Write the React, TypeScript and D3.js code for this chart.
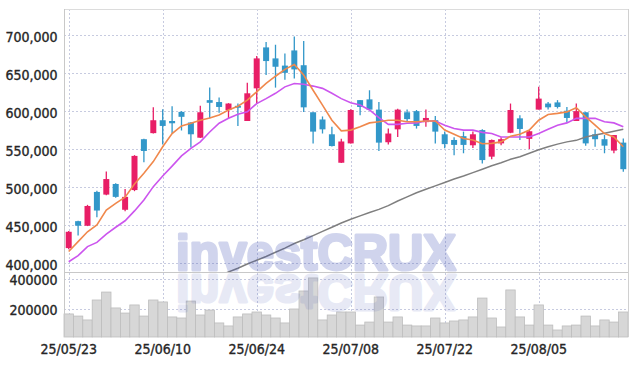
import { useEffect, useRef } from 'react';
import * as d3 from 'd3';

// trading days shown on the chart
const dates = [
  '25/05/23', '25/05/26', '25/05/27', '25/05/28', '25/05/29', '25/05/30', '25/06/02', '25/06/04', '25/06/05', '25/06/09',
  '25/06/10', '25/06/11', '25/06/12', '25/06/13', '25/06/16', '25/06/17', '25/06/18', '25/06/19', '25/06/20', '25/06/23',
  '25/06/24', '25/06/25', '25/06/26', '25/06/27', '25/06/30', '25/07/01', '25/07/02', '25/07/03', '25/07/04', '25/07/07',
  '25/07/08', '25/07/09', '25/07/10', '25/07/11', '25/07/14', '25/07/15', '25/07/16', '25/07/17', '25/07/18', '25/07/21',
  '25/07/22', '25/07/23', '25/07/24', '25/07/25', '25/07/28', '25/07/29', '25/07/30', '25/07/31', '25/08/01', '25/08/04',
  '25/08/05', '25/08/06', '25/08/07', '25/08/08', '25/08/11', '25/08/12', '25/08/13', '25/08/14', '25/08/18', '25/08/19',
];

const tickDates = ['25/05/23', '25/06/10', '25/06/24', '25/07/08', '25/07/22', '25/08/05'];
const priceTicks = [400000, 450000, 500000, 550000, 600000, 650000, 700000];
const volumeTicks = [200000, 400000];

const opens = [
  419500, 455000, 449000, 493500, 490000, 504000, 470000, 496000, 563000, 571000,
  588000, 587000, 599000, 585000, 565000, 614500, 612000, 601500, 607000, 587000,
  630000, 684000, 669500, 660000, 680000, 660500, 598500, 589000, 569500, 532000,
  557500, 614500, 615500, 602000, 559000, 576000, 598500, 600000, 585500, 588000,
  569500, 562000, 567000, 555000, 575000, 540000, 557500, 571500, 590500, 563500,
  602000, 610000, 611500, 600500, 587000, 598500, 569500, 563000, 548000, 558500,
];
const highs = [
  442000, 455500, 476500, 495000, 520500, 505000, 497500, 542000, 563500, 605000,
  602500, 606500, 600000, 585500, 607000, 631000, 618000, 610500, 610000, 637500,
  672500, 691000, 687500, 676000, 698500, 692500, 598500, 593000, 579500, 563500,
  602500, 614500, 627500, 612000, 577000, 603000, 602000, 601500, 602000, 593500,
  573000, 565500, 573000, 573000, 576000, 562500, 565500, 610000, 594500, 575000,
  632000, 612000, 614500, 605500, 610000, 598500, 576000, 568500, 568500, 564000,
];
const lows = [
  418000, 436000, 448500, 460000, 489000, 486000, 468000, 494500, 532500, 570500,
  556000, 570500, 574500, 552000, 564500, 590500, 598000, 590000, 580500, 587000,
  610000, 647500, 631000, 641500, 643000, 599000, 557500, 570500, 553500, 531500,
  557500, 594500, 602000, 547500, 556000, 566000, 586000, 577000, 579500, 557500,
  551000, 542000, 544500, 551500, 531000, 536500, 555000, 571000, 562000, 550000,
  602000, 602000, 603500, 585000, 587000, 554500, 553000, 544500, 544500, 520000,
];
const closes = [
  441000, 449000, 475000, 469000, 510500, 487000, 487000, 541000, 547500, 588000,
  580500, 584000, 592500, 569500, 598500, 611000, 605500, 610000, 604500, 623500,
  669500, 666000, 658500, 650500, 655000, 605000, 573000, 576000, 554000, 560000,
  601500, 605500, 602000, 558500, 570500, 602000, 589500, 580500, 591000, 573000,
  556500, 555500, 555500, 569500, 535500, 562000, 563000, 601500, 576500, 573500,
  616500, 605000, 605500, 591000, 600000, 557500, 563000, 554500, 568500, 523500,
];
const volumes = [
  169000, 155000, 129000, 262000, 315000, 209000, 175000, 229000, 155000, 262000,
  249000, 149000, 142000, 255000, 162000, 195000, 109000, 89000, 149000, 169000,
  182000, 162000, 142000, 109000, 202000, 322000, 409000, 129000, 162000, 182000,
  182000, 95000, 115000, 282000, 115000, 149000, 95000, 89000, 89000, 142000,
  109000, 122000, 129000, 149000, 275000, 142000, 82000, 329000, 149000, 95000,
  229000, 95000, 62000, 89000, 95000, 155000, 89000, 129000, 115000, 182000,
];

// moving averages (orange, purple, gray)
const ma5 = [
  415000, 428000, 441000, 450000, 469500, 478500, 486500, 504000, 518000, 533500,
  553000, 570500, 580500, 584000, 588000, 591000, 595000, 601500, 606500, 614500,
  625500, 636500, 646000, 655000, 661500, 647500, 627500, 608000, 588000, 574000,
  575000, 579500, 584500, 586000, 588000, 588000, 586000, 586000, 587000, 587000,
  575000, 569500, 564000, 562000, 557000, 557500, 559500, 567000, 569500, 575000,
  588000, 595500, 597000, 599000, 604500, 592500, 581500, 570500, 566000, 553000,
];
const ma20 = [
  401500, 409500, 421500, 427000, 438000, 447000, 455500, 468500, 483000, 500500,
  514500, 527500, 541000, 551000, 559500, 572500, 584000, 590500, 596000, 599000,
  610000, 616500, 623500, 632000, 636500, 635500, 633000, 630000, 623500, 616500,
  611000, 608000, 601500, 591500, 582500, 582500, 584000, 584500, 587000, 587000,
  581500, 577000, 575000, 575000, 572000, 570500, 566000, 566000, 566000, 566000,
  570500, 576000, 581500, 584500, 590500, 590500, 590500, 586000, 584500, 579500,
];
const ma60 = [
  null, null, null, null, null, null, null, null, null, null,
  null, null, null, null, null, null, 383000, 388000, 393000, 398500,
  403500, 408500, 414000, 419500, 425500, 430500, 436000, 441500, 447000, 452500,
  457500, 462000, 466500, 470500, 475500, 481500, 487000, 492500, 497000, 501500,
  506000, 510500, 514500, 519000, 523500, 528000, 532000, 536500, 540000, 544500,
  549000, 553000, 556500, 559500, 561500, 566000, 568500, 571000, 573500, 576000,
];

function Chart({ width, height }: any) {
  const d3Ref = useRef(null);

  useEffect(() => {
    const svg = d3.select(d3Ref.current);
    svg.selectAll('*').remove();

    const left = 64;
    const right = 628;
    const top = 9;
    const priceBottom = 272;
    const volBottom = 337;

    const font = "'Liberation Sans Narrow', 'DejaVu Sans Condensed', 'Roboto Condensed', sans-serif";
    const gridColor = '#c7cbe0';
    const upColor = '#e81e66';
    const downColor = '#3297c9';

    const x = d3.scaleBand().domain(dates).range([left, right]).padding(0);
    const cx = (d: string) => (x(d) as number) + x.bandwidth() / 2;
    const y = d3.scaleLinear().domain([388000, 734600]).range([priceBottom, top]);
    const yv = d3.scaleLinear().domain([0, 400000]).range([339.3, 279.3]);

    svg.append('rect').attr('width', width).attr('height', height).attr('fill', '#fff');

    const defs = svg.append('defs');
    defs.append('clipPath').attr('id', 'priceClip')
      .append('rect').attr('x', left).attr('y', top).attr('width', right - left).attr('height', priceBottom - top);

    // grid
    const grid = svg.append('g').attr('stroke', gridColor).attr('stroke-dasharray', '2,2').attr('stroke-width', 1);
    priceTicks.forEach((t) => {
      grid.append('line').attr('x1', left).attr('x2', right).attr('y1', Math.round(y(t)) + 0.5).attr('y2', Math.round(y(t)) + 0.5);
    });
    volumeTicks.forEach((t) => {
      grid.append('line').attr('x1', left).attr('x2', right).attr('y1', Math.round(yv(t)) + 0.5).attr('y2', Math.round(yv(t)) + 0.5);
    });
    tickDates.forEach((d) => {
      grid.append('line').attr('x1', Math.round(cx(d)) + 0.5).attr('x2', Math.round(cx(d)) + 0.5).attr('y1', top).attr('y2', volBottom);
    });

    // volume bars
    svg.append('g').selectAll('rect').data(volumes).enter().append('rect')
      .attr('x', (_, i) => x(dates[i]) as number)
      .attr('width', x.bandwidth())
      .attr('y', (d) => yv(d))
      .attr('height', (d) => volBottom - yv(d))
      .attr('fill', '#d7d7d7')
      .attr('stroke', '#bdbdbd')
      .attr('stroke-width', 0.8);

    // candles
    const candles = svg.append('g').attr('clip-path', 'url(#priceClip)');
    const bodyW = 6;
    dates.forEach((d, i) => {
      const up = closes[i] >= opens[i];
      const color = up ? upColor : downColor;
      const xc = cx(d);
      candles.append('line')
        .attr('x1', xc).attr('x2', xc)
        .attr('y1', y(highs[i])).attr('y2', y(lows[i]))
        .attr('stroke', color).attr('stroke-width', 1.3);
      const y0 = y(Math.max(opens[i], closes[i]));
      const y1 = y(Math.min(opens[i], closes[i]));
      candles.append('rect')
        .attr('x', xc - bodyW / 2).attr('width', bodyW)
        .attr('y', y0).attr('height', Math.max(1, y1 - y0))
        .attr('fill', color);
    });

    // moving average lines
    const line = d3.line<any>()
      .defined((v) => v != null)
      .x((_, i) => cx(dates[i]))
      .y((v) => y(v));
    const lines = svg.append('g').attr('clip-path', 'url(#priceClip)').attr('fill', 'none');
    lines.append('path').attr('d', line(ma60)).attr('stroke', '#7f7f7f').attr('stroke-width', 1.5);
    lines.append('path').attr('d', line(ma20)).attr('stroke', '#cc55ee').attr('stroke-width', 1.6);
    lines.append('path').attr('d', line(ma5)).attr('stroke', '#f0884c').attr('stroke-width', 1.6);

    // watermark and its reflection (heavy letters: fill + stroke, faded as a group)
    const wmFont = "'Liberation Sans', Arial, sans-serif";
    const wmTop = svg.append('g').attr('opacity', 0.24);
    wmTop.append('text').attr('x', 176).attr('y', 270)
      .attr('font-family', wmFont).attr('font-weight', 'bold').attr('font-size', 50)
      .attr('textLength', 280).attr('lengthAdjust', 'spacingAndGlyphs')
      .attr('fill', '#3f51b5').attr('stroke', '#3f51b5').attr('stroke-width', 3).attr('stroke-linejoin', 'round')
      .text('investCRUX');
    const wmBottom = svg.append('g').attr('opacity', 0.12);
    wmBottom.append('text').attr('x', 176).attr('y', -275)
      .attr('transform', 'scale(1,-1)')
      .attr('font-family', wmFont).attr('font-weight', 'bold').attr('font-size', 50)
      .attr('textLength', 280).attr('lengthAdjust', 'spacingAndGlyphs')
      .attr('fill', '#3f51b5').attr('stroke', '#3f51b5').attr('stroke-width', 3).attr('stroke-linejoin', 'round')
      .text('investCRUX');

    // frame
    const frame = svg.append('g').attr('stroke-width', 1).attr('fill', 'none');
    frame.append('line').attr('x1', left).attr('x2', right).attr('y1', top + 0.5).attr('y2', top + 0.5).attr('stroke', '#dcdcdc');
    frame.append('line').attr('x1', left + 0.5).attr('x2', left + 0.5).attr('y1', top).attr('y2', volBottom).attr('stroke', '#c8c8c8');
    frame.append('line').attr('x1', right + 0.5).attr('x2', right + 0.5).attr('y1', top).attr('y2', volBottom).attr('stroke', '#d0d0d0');
    frame.append('line').attr('x1', left).attr('x2', right).attr('y1', priceBottom + 0.5).attr('y2', priceBottom + 0.5).attr('stroke', '#c8c8c8');

    // axis labels
    const labels = svg.append('g').attr('font-family', font).attr('font-size', 14)
      .attr('fill', '#262626').attr('stroke', '#262626').attr('stroke-width', 0.35);
    priceTicks.forEach((t) => {
      labels.append('text').attr('x', 57.5).attr('y', y(t) + 7).attr('text-anchor', 'end').text(d3.format(',')(t));
    });
    volumeTicks.forEach((t) => {
      labels.append('text').attr('x', 57.5).attr('y', yv(t) + 6).attr('text-anchor', 'end').text(String(t));
    });
    tickDates.forEach((d) => {
      labels.append('text').attr('x', cx(d)).attr('y', 354).attr('text-anchor', 'middle').text(d);
    });
  }, [d3Ref, width, height]);

  return (
    <svg width={width} height={height} ref={d3Ref} style={{ position: 'absolute', left: 0, top: 0 }} />
  );
}

export default function App() {
  return <Chart width={637} height={366} />;
}
